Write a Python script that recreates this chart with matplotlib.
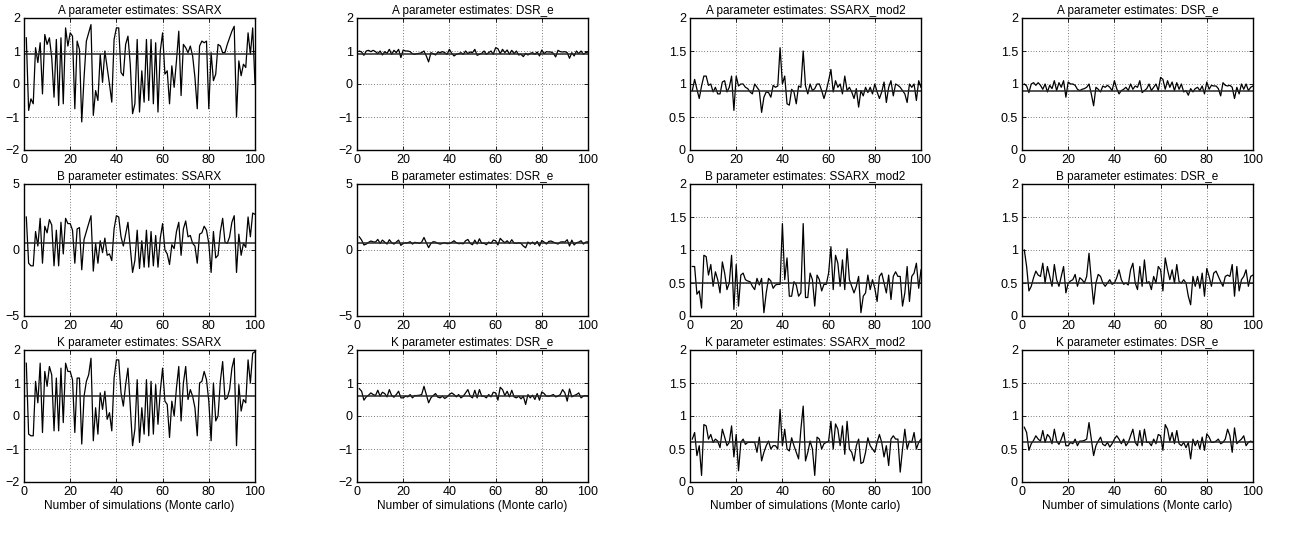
import numpy as np
import matplotlib.pyplot as plt

plt.rcParams['font.family'] = ['Liberation Sans', 'DejaVu Sans']
plt.rcParams['font.size'] = 8.5

runs = np.arange(1, 101)

# true parameter values
true_A = 0.9
true_B = 0.5
true_K = 0.6

# SSARX estimates
A_ssarx = [1.4, -0.8, -0.45, -0.6, 1.1, 0.65, 1.25, -0.3, 1.5, 1.2,
           1.4, 0.8, -0.4, 1.35, -0.65, 1.4, -0.6, 1.7, 1.15, 1.55,
           1.45, -0.75, 1.3, 1.05, -1.15, 0.2, 1.3, 1.55, 1.8, -0.95,
           -0.2, -0.5, 0.9, 0.05, 1.0, 0.5, 0.0, -0.55, 1.35, 1.7,
           1.7, 0.35, 0.25, 1.2, 1.45, 0.6, -0.9, -0.6, 1.35, -0.85,
           0.4, -0.55, 1.35, -0.5, 1.35, -0.6, 1.25, -0.85, 1.0, 1.55,
           0.3, 0.4, -0.6, 0.55, -0.1, 0.7, 1.6, -0.35, 1.2, 1.1,
           0.95, 1.15, 0.85, 0.2, -0.75, 1.15, 1.3, 1.25, 1.3, -0.75,
           0.95, 0.1, 0.3, 1.2, 1.15, 0.95, 0.95, 1.2, 1.4, 1.6,
           1.75, -1.0, 0.7, 0.25, 0.6, 0.5, 1.55, 0.9, 1.7, 0.0]
B_ssarx = [2.5, -1.0, -1.2, -1.2, 1.4, 0.3, 2.4, -1.0, 1.8, 1.3,
           2.3, 1.9, -1.2, 1.5, -1.2, 2.1, -0.3, 2.4, 2.0, 2.0,
           1.5, -1.0, 1.6, 1.7, -1.5, 0.8, 1.4, 2.0, 2.6, -1.6,
           0.5, -1.0, 0.7, -0.2, 0.9, -0.4, -0.3, -0.8, 1.6, 2.6,
           2.5, 1.0, 0.3, 1.2, 2.1, 0.2, -1.7, -0.8, 1.5, -1.4,
           0.7, -1.3, 1.5, -1.3, 1.4, -1.2, 1.1, -1.3, 0.9, 2.0,
           0.0, -0.3, -1.1, 0.4, 0.1, 1.4, 2.1, -0.4, 1.6, 2.2,
           1.0, 1.1, 0.5, 0.3, -1.0, 1.2, 1.3, 1.8, 1.5, 0.5,
           -1.7, 1.4, -0.6, -0.4, 1.4, 2.4, 0.6, 0.5, 1.0, 2.1,
           2.6, -1.7, 1.2, -0.4, 0.5, 0.2, 2.5, 1.0, 2.8, 2.7]
K_ssarx = [1.6, -0.55, -0.6, -0.6, 1.05, 0.4, 1.6, -0.5, 1.35, 0.9,
           1.5, 1.25, -0.45, 1.15, -0.45, 1.45, -0.2, 1.6, 1.35, 1.35,
           1.1, -0.5, 1.15, 1.15, -0.85, 0.6, 1.05, 1.25, 1.75, -0.75,
           0.25, -0.55, 0.7, 0.2, 0.75, -0.1, 0.1, -0.45, 1.15, 1.7,
           1.7, 0.7, 0.3, 0.95, 1.45, 0.3, -0.9, -0.4, 1.1, -0.8,
           0.25, -0.55, 1.1, -0.6, 1.05, -0.55, 0.95, -0.25, 0.75, 1.45,
           0.45, 0.35, -0.65, 0.45, 0.0, 0.85, 1.5, -0.15, 1.0, 1.5,
           0.5, 0.8, 0.6, 0.25, -0.6, 1.0, 1.05, 1.35, 1.1, 0.45,
           -0.75, 1.0, -0.15, 0.0, 1.05, 1.65, 0.5, 0.55, 0.8, 1.45,
           1.75, -0.9, 0.95, 0.15, 0.5, 0.4, 1.7, 1.0, 1.9, 1.95]

# DSR_e estimates
A_dsr = [1.0, 0.97, 0.87, 1.0, 1.02, 0.98, 1.02, 0.98, 0.92, 1.0,
         0.88, 0.98, 0.93, 1.05, 0.9, 1.02, 0.95, 1.05, 0.8, 1.03,
         1.0, 1.0, 0.98, 0.92, 0.9, 0.92, 0.93, 0.95, 1.0, 0.85,
         0.67, 0.95, 0.92, 0.88, 0.97, 0.95, 0.98, 0.95, 0.9, 1.05,
         0.93, 0.85, 0.9, 0.92, 0.95, 0.9, 1.0, 0.92, 0.97, 0.95,
         1.05, 0.87, 0.9, 0.93, 1.0, 0.9, 0.95, 1.0, 0.9, 1.1,
         1.07, 0.92, 1.05, 0.95, 1.03, 0.9, 1.02, 0.92, 1.0, 0.88,
         0.9, 0.83, 0.93, 0.88, 0.93, 0.95, 0.9, 0.97, 0.85, 1.03,
         0.92, 0.98, 0.97, 0.97, 0.93, 0.82, 1.02, 0.98, 0.97, 0.98,
         0.95, 0.78, 0.95, 0.85, 1.0, 0.92, 1.0, 0.9, 0.95, 0.97]
B_dsr = [1.0, 0.75, 0.38, 0.45, 0.58, 0.68, 0.62, 0.6, 0.8, 0.5,
         0.75, 0.6, 0.45, 0.78, 0.55, 0.45, 0.6, 0.75, 0.35, 0.5,
         0.53, 0.55, 0.63, 0.45, 0.58, 0.55, 0.5, 0.6, 0.95, 0.55,
         0.18, 0.5, 0.63, 0.6, 0.5, 0.45, 0.5, 0.55, 0.48, 0.5,
         0.58, 0.7, 0.55, 0.48, 0.5, 0.47, 0.7, 0.8, 0.5, 0.4,
         0.75, 0.45, 0.85, 0.5, 0.52, 0.4, 0.6, 0.5, 0.75, 0.7,
         0.38, 0.88, 0.7, 0.55, 0.7, 0.5, 0.78, 0.52, 0.5, 0.55,
         0.5, 0.3, 0.17, 0.6, 0.45, 0.6, 0.42, 0.65, 0.3, 0.72,
         0.6, 0.45, 0.65, 0.68, 0.6, 0.52, 0.45, 0.6, 0.62, 0.6,
         0.78, 0.3, 0.75, 0.38, 0.55, 0.6, 0.7, 0.45, 0.6, 0.62]
K_dsr = [0.83, 0.75, 0.48, 0.58, 0.63, 0.7, 0.65, 0.62, 0.78, 0.6,
         0.72, 0.68, 0.58, 0.8, 0.62, 0.57, 0.65, 0.75, 0.55, 0.55,
         0.6, 0.58, 0.65, 0.55, 0.62, 0.62, 0.63, 0.65, 0.9, 0.65,
         0.4, 0.55, 0.62, 0.68, 0.57, 0.55, 0.6, 0.53, 0.58, 0.65,
         0.7, 0.65, 0.58, 0.65, 0.55, 0.6, 0.7, 0.8, 0.6, 0.55,
         0.78, 0.55, 0.8, 0.6, 0.6, 0.55, 0.65, 0.58, 0.72, 0.7,
         0.48, 0.87, 0.8, 0.62, 0.75, 0.58, 0.78, 0.58, 0.55, 0.6,
         0.52, 0.6, 0.35, 0.65, 0.55, 0.63, 0.5, 0.68, 0.48, 0.73,
         0.68, 0.6, 0.6, 0.62, 0.65, 0.58, 0.6, 0.65, 0.8, 0.7,
         0.45, 0.82, 0.58, 0.62, 0.65, 0.7, 0.55, 0.6, 0.62, 0.6]

# SSARX_mod2 estimates
A_mod2 = [0.9, 1.07, 0.92, 0.78, 0.97, 1.12, 1.12, 0.98, 1.0, 0.88,
          0.95, 0.85, 0.85, 1.03, 1.05, 0.88, 0.95, 1.12, 0.6, 1.12,
          0.97, 1.0, 1.0, 0.95, 0.93, 0.88, 0.85, 1.0, 0.95, 0.9,
          0.57, 0.8, 0.88, 0.87, 0.8, 0.98, 0.95, 0.97, 1.55, 1.0,
          1.12, 0.7, 0.68, 0.92, 0.88, 0.7, 0.97, 0.95, 1.5, 0.97,
          0.85, 1.0, 0.9, 0.93, 1.0, 1.0, 0.9, 0.78, 0.9, 1.05,
          1.22, 0.88, 1.05, 0.95, 1.0, 0.85, 1.12, 0.9, 0.95, 0.88,
          0.78, 0.93, 0.65, 0.9, 0.82, 0.95, 0.87, 0.95, 0.85, 1.0,
          0.88, 0.78, 0.88, 1.03, 0.72, 0.95, 1.05, 0.82, 1.0, 0.98,
          0.95, 0.9, 0.85, 0.72, 1.0, 0.95, 1.0, 0.75, 1.05, 0.95]
B_mod2 = [0.75, 0.75, 0.33, 0.38, 0.12, 0.92, 0.9, 0.62, 0.78, 0.45,
          0.67, 0.55, 0.35, 0.82, 0.65, 0.4, 0.5, 0.92, 0.1, 0.78,
          0.15, 0.62, 0.65, 0.55, 0.53, 0.52, 0.45, 0.4, 0.57, 0.47,
          0.57, 0.05, 0.35, 0.57, 0.53, 0.42, 0.47, 0.48, 0.48, 1.4,
          0.55, 0.88, 0.3, 0.3, 0.52, 0.47, 0.3, 0.35, 1.4, 0.28,
          0.28, 0.65, 0.55, 0.15, 0.62, 0.55, 0.38, 0.48, 0.48, 0.65,
          1.05, 0.4, 0.92, 0.8, 0.45, 0.85, 0.4, 1.02, 0.55, 0.45,
          0.35, 0.45, 0.6, 0.05, 0.3, 0.35, 0.62, 0.4, 0.55, 0.42,
          0.22, 0.6, 0.65, 0.5, 0.35, 0.62, 0.25, 0.6, 0.67, 0.6,
          0.6, 0.15, 0.35, 0.75, 0.22, 0.6, 0.65, 0.8, 0.42, 0.7]
K_mod2 = [0.65, 0.75, 0.4, 0.55, 0.1, 0.87, 0.85, 0.65, 0.72, 0.6,
          0.65, 0.62, 0.52, 0.8, 0.68, 0.55, 0.6, 0.85, 0.38, 0.72,
          0.17, 0.6, 0.65, 0.57, 0.6, 0.6, 0.6, 0.6, 0.45, 0.68,
          0.32, 0.45, 0.55, 0.62, 0.5, 0.55, 0.55, 0.5, 1.1, 0.55,
          0.8, 0.5, 0.47, 0.67, 0.55, 0.45, 0.35, 0.8, 1.15, 0.32,
          0.45, 0.62, 0.5, 0.1, 0.68, 0.65, 0.5, 0.58, 0.6, 0.62,
          0.92, 0.5, 0.88, 0.8, 0.55, 0.85, 0.42, 0.92, 0.5, 0.45,
          0.32, 0.55, 0.65, 0.28, 0.3, 0.45, 0.67, 0.55, 0.5, 0.45,
          0.6, 0.72, 0.6, 0.38, 0.55, 0.25, 0.65, 0.7, 0.65, 0.65,
          0.15, 0.5, 0.8, 0.5, 0.62, 0.6, 0.75, 0.5, 0.6, 0.65]

wide_ticks = [-2, -1, 0, 1, 2]
b_ticks = [-5, 0, 5]
narrow_ticks = [0, 0.5, 1, 1.5, 2]

panels = [
    [("A parameter estimates: SSARX", A_ssarx, true_A, wide_ticks),
     ("A parameter estimates: DSR_e", A_dsr, true_A, wide_ticks),
     ("A parameter estimates: SSARX_mod2", A_mod2, true_A, narrow_ticks),
     ("A parameter estimates: DSR_e", A_dsr, true_A, narrow_ticks)],
    [("B parameter estimates: SSARX", B_ssarx, true_B, b_ticks),
     ("B parameter estimates: DSR_e", B_dsr, true_B, b_ticks),
     ("B parameter estimates: SSARX_mod2", B_mod2, true_B, narrow_ticks),
     ("B parameter estimates: DSR_e", B_dsr, true_B, narrow_ticks)],
    [("K parameter estimates: SSARX", K_ssarx, true_K, wide_ticks),
     ("K parameter estimates: DSR_e", K_dsr, true_K, wide_ticks),
     ("K parameter estimates: SSARX_mod2", K_mod2, true_K, narrow_ticks),
     ("K parameter estimates: DSR_e", K_dsr, true_K, narrow_ticks)],
]

W, H = 1301, 534
fig = plt.figure(figsize=(W / 100, H / 100), dpi=100)

col_left = [24, 357, 690, 1022]
row_top = [18, 184, 350]
ax_w, ax_h = 231, 132

for r, row in enumerate(panels):
    for c, (title, vals, true_val, yt) in enumerate(row):
        ax = fig.add_axes([col_left[c] / W, 1 - (row_top[r] + ax_h) / H,
                           ax_w / W, ax_h / H])
        ax.plot(runs, vals, color='black', lw=0.9)
        ax.axhline(true_val, color='0.15', lw=1.1)
        ax.set_xlim(0, 100)
        ax.set_ylim(yt[0], yt[-1])
        ax.set_xticks([0, 20, 40, 60, 80, 100])
        ax.set_yticks(yt)
        ax.set_yticklabels([f"{t:g}".replace('-', '\u2212') for t in yt])
        ax.grid(True, color='black', ls=(0, (1, 3)), lw=0.5)
        ax.tick_params(direction='in', length=3, width=0.6, top=True,
                       right=True, pad=3, labelsize=9)
        for s in ax.spines.values():
            s.set_linewidth(1.0)
        ax.set_title(title, fontsize=8.5, pad=3)
        if r == 2:
            ax.set_xlabel("Number of simulations (Monte carlo)", fontsize=8.5,
                          labelpad=1)

fig.savefig("out.png", dpi=100)
